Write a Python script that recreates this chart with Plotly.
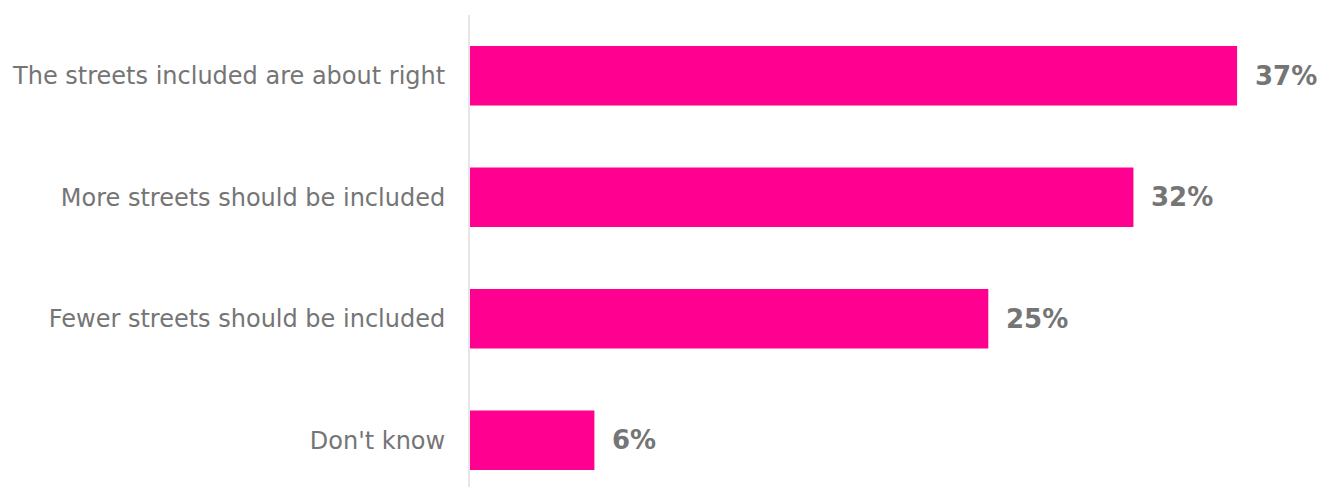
import plotly.graph_objects as go

categories = ["The streets included are about right", "More streets should be included",
              "Fewer streets should be included", "Don't know"]
values = [37, 32, 25, 6]
value_labels = [f"{v}%" for v in values]

PINK = "#FF0090"
GRAY = "#757575"

fig = go.Figure()
fig.add_trace(go.Bar(
    y=categories, x=values, orientation="h",
    marker=dict(color=PINK, line=dict(width=0)),
    width=0.49, hoverinfo="skip",
))

for c, v, t in zip(categories, values, value_labels):
    fig.add_annotation(x=v, y=c, text=f"<b>{t}</b>", showarrow=False,
                       xanchor="left", yanchor="middle", xshift=16,
                       font=dict(family="DejaVu Sans", size=26, color=GRAY))

fig.update_layout(
    width=1311, height=479,
    margin=dict(l=462, r=0, t=7, b=0),
    paper_bgcolor="white", plot_bgcolor="white",
    showlegend=False,
    font=dict(family="DejaVu Sans", color=GRAY),
    xaxis=dict(range=[0, 40.95], showgrid=False, zeroline=False,
               showticklabels=False, showline=False, fixedrange=True),
    yaxis=dict(categoryorder="array", categoryarray=categories,
               range=[3.385, -0.5], showgrid=False, zeroline=False,
               showline=True, linecolor="#E6E6E6", linewidth=2,
               ticks="", ticklabelstandoff=18,
               tickfont=dict(family="DejaVu Sans", size=24, color=GRAY)),
)

fig.write_html("out.html")
